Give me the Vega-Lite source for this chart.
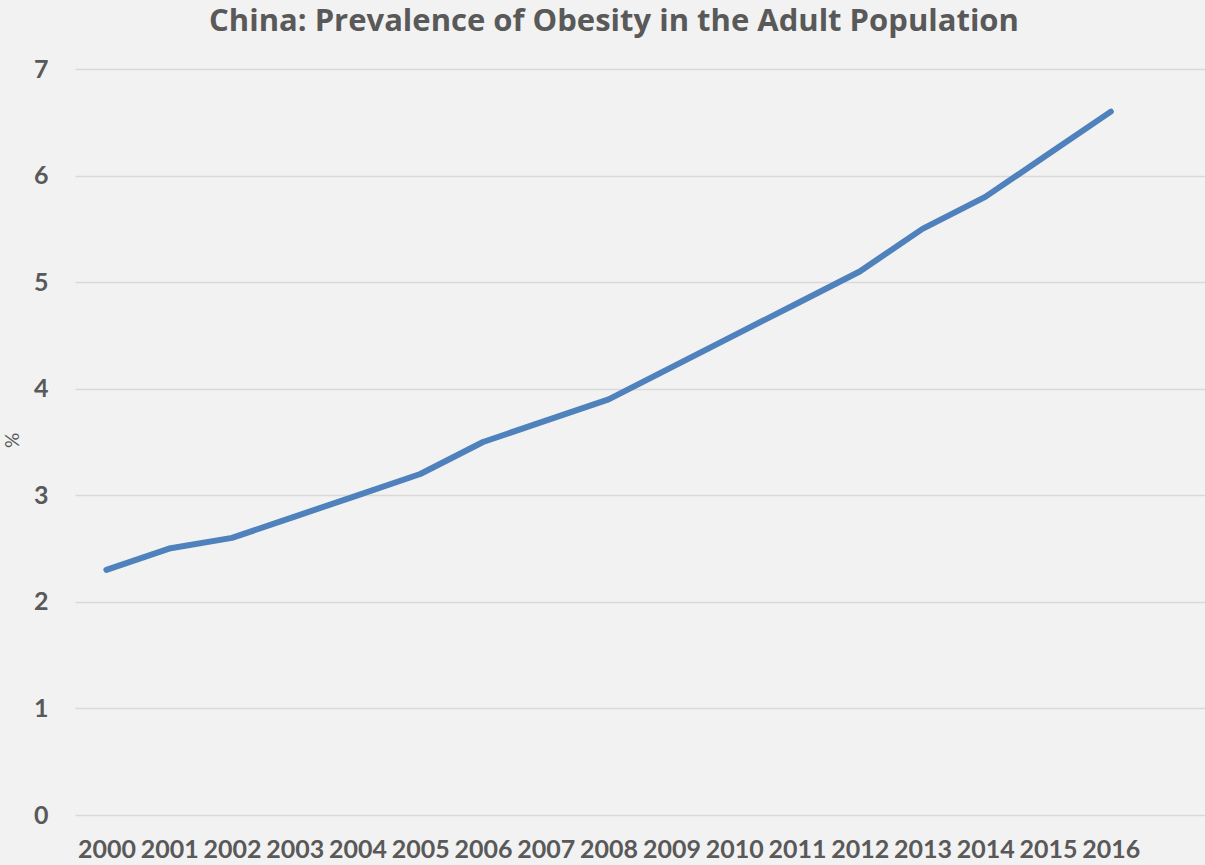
{
  "$schema": "https://vega.github.io/schema/vega-lite/v6.json",
  "width": 1130,
  "height": 746,
  "autosize": {"type": "none"},
  "padding": {"left": 75, "top": 69, "right": 0, "bottom": 50},
  "background": "#f2f2f2",
  "title": {
    "text": "China: Prevalence of Obesity in the Adult Population",
    "font": "Open Sans",
    "fontSize": 31,
    "fontWeight": "bold",
    "color": "#595959",
    "anchor": "middle",
    "dx": -26,
    "offset": 19
  },
  "config": {
    "view": {"stroke": null},
    "axis": {"labelFont": "Lato", "titleFont": "Lato"}
  },
  "data": {
    "values": [
      {"year": 2000, "obesity": 2.3},
      {"year": 2001, "obesity": 2.5},
      {"year": 2002, "obesity": 2.6},
      {"year": 2003, "obesity": 2.8},
      {"year": 2004, "obesity": 3.0},
      {"year": 2005, "obesity": 3.2},
      {"year": 2006, "obesity": 3.5},
      {"year": 2007, "obesity": 3.7},
      {"year": 2008, "obesity": 3.9},
      {"year": 2009, "obesity": 4.2},
      {"year": 2010, "obesity": 4.5},
      {"year": 2011, "obesity": 4.8},
      {"year": 2012, "obesity": 5.1},
      {"year": 2013, "obesity": 5.5},
      {"year": 2014, "obesity": 5.8},
      {"year": 2015, "obesity": 6.2},
      {"year": 2016, "obesity": 6.6}
    ]
  },
  "mark": {
    "type": "line",
    "color": "#4f81bd",
    "strokeWidth": 6,
    "strokeCap": "round",
    "strokeJoin": "round"
  },
  "encoding": {
    "x": {
      "field": "year",
      "type": "quantitative",
      "scale": {"domain": [1999.5, 2017.5], "nice": false, "zero": false},
      "axis": {
        "title": null,
        "values": [2000, 2001, 2002, 2003, 2004, 2005, 2006, 2007, 2008, 2009, 2010, 2011, 2012, 2013, 2014, 2015, 2016],
        "format": "d",
        "grid": false,
        "ticks": false,
        "domain": false,
        "labelFontSize": 25,
        "labelFontWeight": "bold",
        "labelColor": "#595959",
        "labelPadding": 22,
        "labelFlush": false,
        "labelOverlap": false
      }
    },
    "y": {
      "field": "obesity",
      "type": "quantitative",
      "scale": {"domain": [0, 7], "nice": false},
      "axis": {
        "title": "%",
        "titleFontSize": 19,
        "titleFontWeight": "normal",
        "titleColor": "#595959",
        "titleX": -63,
        "titleY": 371,
        "titleAngle": -90,
        "titleBaseline": "middle",
        "values": [0, 1, 2, 3, 4, 5, 6, 7],
        "grid": true,
        "gridColor": "#d9d9d9",
        "gridWidth": 1.5,
        "ticks": false,
        "domain": false,
        "labelFontSize": 25,
        "labelFontWeight": "bold",
        "labelColor": "#595959",
        "labelPadding": 27
      }
    }
  }
}
